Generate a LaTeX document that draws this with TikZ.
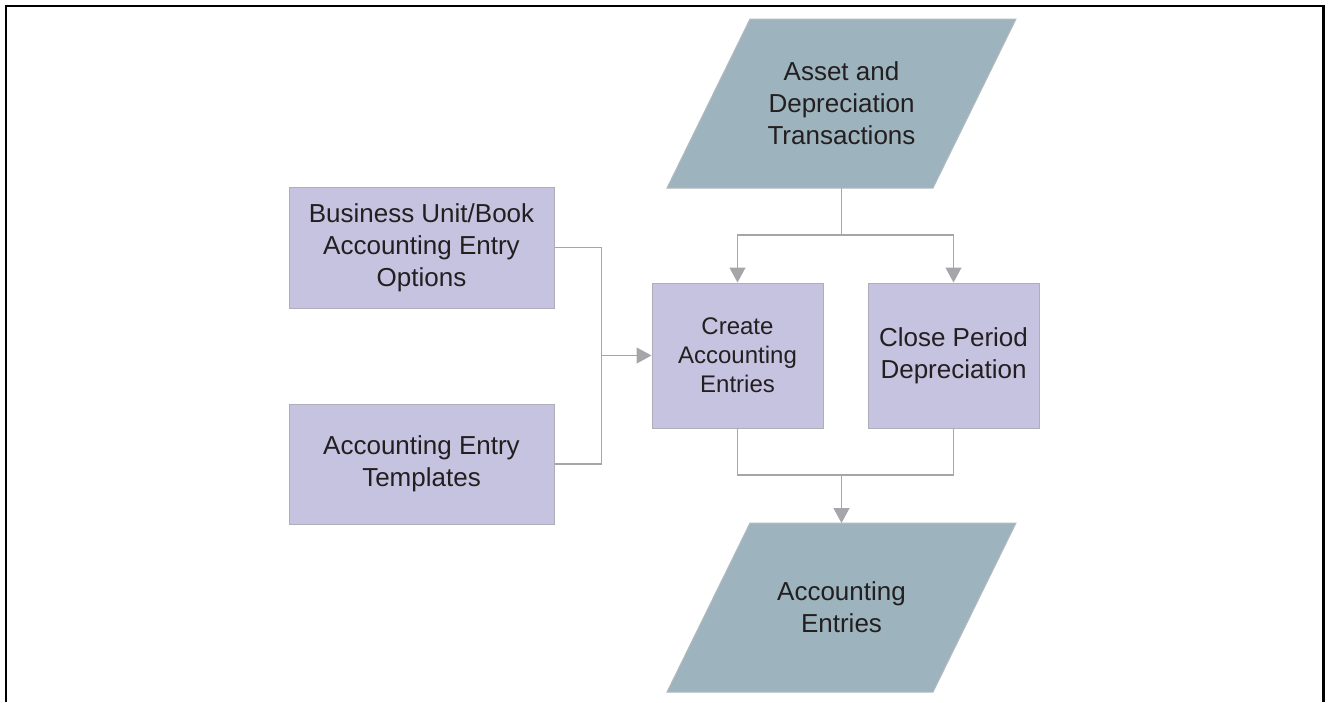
\documentclass[tikz,border=0pt]{standalone}
\usepackage{fontspec}
\setmainfont{Liberation Sans}
\usetikzlibrary{arrows.meta}
\definecolor{boxfill}{HTML}{C6C3E0}
\definecolor{boxline}{HTML}{AEADB8}
\definecolor{pgfill}{HTML}{9DB3BD}
\definecolor{pgline}{HTML}{B3BBBF}
\definecolor{conncol}{HTML}{A6A6AA}
\definecolor{txt}{HTML}{231F20}
\tikzset{
  procbox/.style={rectangle, draw=boxline, line width=1pt, fill=boxfill, align=center, text=txt, inner sep=0pt},
  pgshape/.style={draw=pgline, line width=1pt, fill=pgfill, line join=miter},
  pgtext/.style={rectangle, minimum width=266pt, minimum height=169pt, align=center, text=txt, inner sep=0pt, outer sep=0pt},
  conn/.style={draw=conncol, line width=1.3pt},
  arr/.style={conn, -{Triangle[length=15pt,width=16pt,fill=conncol]}},
  bigfont/.style={font=\fontsize{26}{32}\selectfont},
  smallfont/.style={font=\fontsize{24}{29}\selectfont}
}
\begin{document}
\begin{tikzpicture}[x=1pt,y=-1pt]
\useasboundingbox (0,0) rectangle (1328,702);
\draw[line width=2.6pt, black] (6,702) -- (6,6) -- (1323.5,6) -- (1323.5,702);

\path[pgshape] (667,188) -- (750,19) -- (1016,19) -- (933,188) -- cycle;
\node[pgtext, bigfont] (asset) at (841.5,103.5) {Asset and\\Depreciation\\Transactions};
\path[pgshape] (667,692) -- (750,523) -- (1016,523) -- (933,692) -- cycle;
\node[pgtext, bigfont] (entries) at (841.5,607.5) {Accounting\\Entries};

\node[procbox, bigfont, minimum width=265pt, minimum height=121pt] (bu) at (421.5,247.5) {Business Unit/Book\\Accounting Entry\\Options};
\node[procbox, bigfont, minimum width=265pt, minimum height=120pt] (tmpl) at (421.5,464) {Accounting Entry\\Templates};
\node[procbox, smallfont, minimum width=171pt, minimum height=145pt] (create) at (737.5,355.5) {Create\\Accounting\\Entries};
\node[procbox, bigfont, minimum width=171pt, minimum height=145pt] (close) at (953.5,355.5) {Close Period\\Depreciation};

\coordinate (split) at (841.5,235);
\coordinate (merge) at (601.7,355.5);
\coordinate (join) at (841.5,475);

\draw[conn] (asset.south) -- (split);
\draw[arr] (split) -| (create.north);
\draw[arr] (split) -| (close.north);
\draw[conn] (bu.east) -| (merge);
\draw[conn] (tmpl.east) -| (merge);
\draw[arr] (merge) -- (create.west);
\draw[conn] (create.south) |- (join) -| (close.south);
\draw[arr] (join) -- (entries.north);
\end{tikzpicture}
\end{document}
